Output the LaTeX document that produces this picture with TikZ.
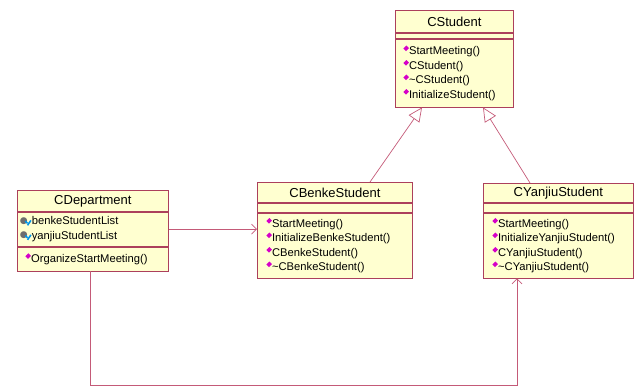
\documentclass[tikz,border=0pt]{standalone}
\usepackage{fontspec}
\setmainfont{Liberation Sans}
\newfontfamily\symfont{DejaVu Sans}
\usetikzlibrary{arrows.meta, positioning, calc}
\definecolor{umlfill}{RGB}{255,255,208}
\definecolor{umlborder}{RGB}{172,64,92}
\definecolor{umlline}{RGB}{196,90,120}
\definecolor{opmagenta}{RGB}{214,0,200}
\definecolor{attrgray}{RGB}{110,110,110}
\definecolor{attrblue}{RGB}{0,150,235}
\newcommand{\opmark}{\raisebox{3.5pt}{\rotatebox{45}{\color{opmagenta}\rule{4.2pt}{3.6pt}}}\kern0.2pt}
\newcommand{\attrmark}{\raisebox{1.5pt}{{\symfont\fontsize{9}{9}\selectfont\color{attrgray}●}}\kern-3pt{\color{attrblue}\raisebox{1pt}{\rotatebox{45}{\rule{1.6pt}{3.2pt}}}\kern-1.3pt\rotatebox{-35}{\rule{1.6pt}{6pt}}}\kern0.3pt}

\begin{document}
\begin{tikzpicture}[x=1pt, y=-1pt,
  classbox/.style={rectangle, draw=umlborder, fill=umlfill, line width=0.8pt, anchor=north west, inner sep=0pt},
  namepart/.style={classbox, font=\fontsize{13}{15}\selectfont, align=center},
  listpart/.style={classbox, inner xsep=8pt, align=left, font=\fontsize{11.2}{14.5}\selectfont},
  gen/.style={draw=umlline, line width=0.7pt, -{Triangle[open, length=14pt, width=13pt]}},
  assoc/.style={draw=umlline, line width=0.7pt, -{Straight Barb[length=5pt, width=10pt]}}
]
\useasboundingbox (0,0) rectangle (634,387);
% CStudent
\node[namepart, minimum width=118pt, minimum height=22pt] (studentname) at (395,10) {CStudent};
\node[classbox, minimum width=118pt, minimum height=5pt] (studentattr) at (studentname.south west) {};
\node[listpart, text width=102pt, minimum height=68pt] (studentops) at (studentattr.south west)
  {\opmark StartMeeting()\\ \opmark CStudent()\\ \opmark\textasciitilde CStudent()\\ \opmark InitializeStudent()};
% CBenkeStudent
\node[namepart, minimum width=155pt, minimum height=20pt] (benkename) at (257,182) {CBenkeStudent};
\node[classbox, minimum width=155pt, minimum height=9pt] (benkeattr) at (benkename.south west) {};
\node[listpart, inner xsep=9pt, text width=137pt, minimum height=65pt] (benkeops) at (benkeattr.south west)
  {\opmark StartMeeting()\\ \opmark InitializeBenkeStudent()\\ \opmark CBenkeStudent()\\ \opmark\textasciitilde CBenkeStudent()};
% CYanjiuStudent
\node[namepart, minimum width=150pt, minimum height=19pt] (yanjiuname) at (483,183) {CYanjiuStudent};
\node[classbox, minimum width=150pt, minimum height=9pt] (yanjiuattr) at (yanjiuname.south west) {};
\node[listpart, inner xsep=9pt, text width=132pt, minimum height=65pt] (yanjiuops) at (yanjiuattr.south west)
  {\opmark StartMeeting()\\ \opmark InitializeYanjiuStudent()\\ \opmark CYanjiuStudent()\\ \opmark\textasciitilde CYanjiuStudent()};
% CDepartment
\node[namepart, minimum width=151pt, minimum height=21pt] (deptname) at (17,190) {CDepartment};
\node[listpart, inner xsep=2.5pt, text width=146pt, minimum height=34pt] (deptattr) at (deptname.south west)
  {\attrmark benkeStudentList\\ \attrmark yanjiuStudentList};
\node[listpart, text width=135pt, minimum height=24pt] (deptops) at (deptattr.south west)
  {\opmark OrganizeStartMeeting()};
% Vererbung
\draw[gen] ($(benkename.north west)+(113,0)$) -- ($(studentops.south west)+(27,0)$);
\draw[gen] ($(yanjiuname.north west)+(47,0)$) -- ($(studentops.south west)+(88,0)$);
% Assoziationen
\draw[assoc] (deptattr.east) -- (deptattr.east -| benkeops.west);
\draw[assoc] ($(deptops.south west)+(73,0)$) -- ++(0,114) -| ($(yanjiuops.south west)+(34,0)$);
\end{tikzpicture}
\end{document}
